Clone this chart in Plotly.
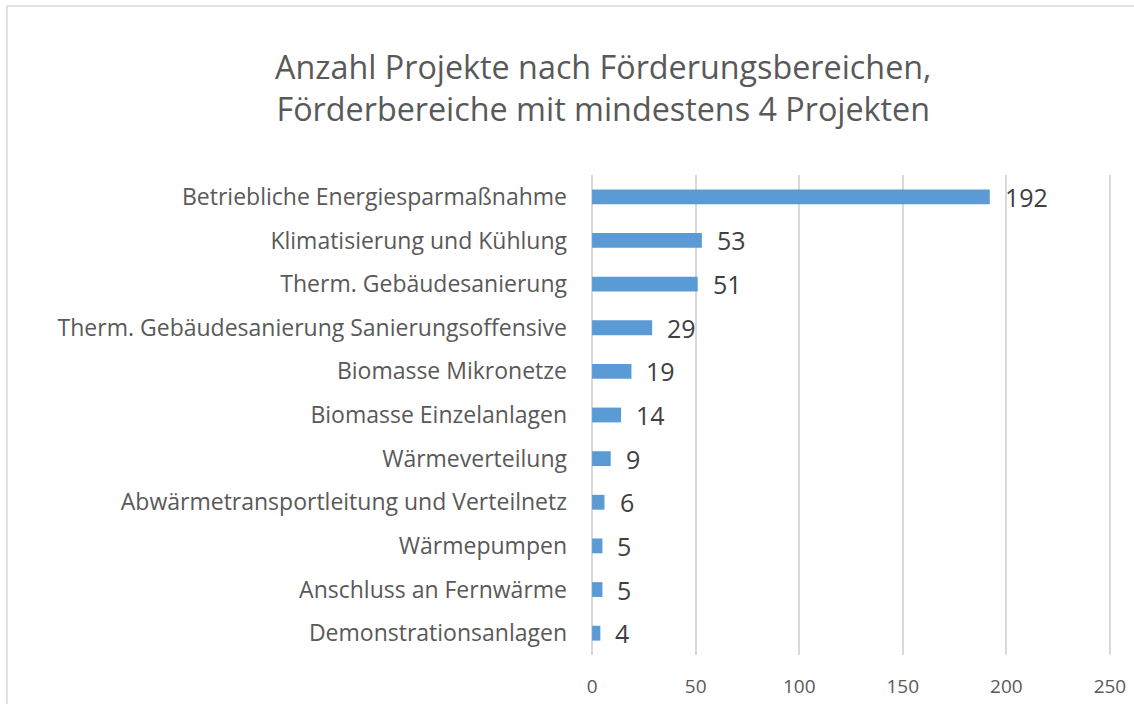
import plotly.graph_objects as go

categories = [
    "Betriebliche Energiesparmaßnahme",
    "Klimatisierung und Kühlung",
    "Therm. Gebäudesanierung",
    "Therm. Gebäudesanierung Sanierungsoffensive",
    "Biomasse Mikronetze",
    "Biomasse Einzelanlagen",
    "Wärmeverteilung",
    "Abwärmetransportleitung und Verteilnetz",
    "Wärmepumpen",
    "Anschluss an Fernwärme",
    "Demonstrationsanlagen",
]
values = [192, 53, 51, 29, 19, 14, 9, 6, 5, 5, 4]
x_ticks = [0, 50, 100, 150, 200, 250]

FONT = "Open Sans"
W, H = 1134, 704
L, R, T, B = 590, 22, 175, 49
pw, ph = W - L - R, H - T - B

fig = go.Figure()
fig.add_trace(go.Bar(
    x=values, y=categories, orientation="h",
    marker=dict(color="#5B9BD5", line=dict(width=0)),
    width=0.34, hoverinfo="x+y",
))

for c, v in zip(categories, values):
    fig.add_annotation(x=v, y=c, text=str(v), showarrow=False,
                       xanchor="left", xshift=13,
                       font=dict(family=FONT, size=25, color="#404040"))

fig.update_layout(
    width=W, height=H,
    margin=dict(l=L, r=R, t=T, b=B, pad=0, autoexpand=False),
    paper_bgcolor="white", plot_bgcolor="white",
    showlegend=False,
    title=dict(
        text="Anzahl Projekte nach Förderungsbereichen,<br>Förderbereiche mit mindestens 4 Projekten",
        x=0.532, xanchor="center", y=0.888, yanchor="middle",
        font=dict(family=FONT, size=32.3, color="#595959"),
    ),
    xaxis=dict(
        range=[-1, 251], tickvals=x_ticks, showgrid=True, gridcolor="#D9D9D9",
        gridwidth=1.5, zeroline=False, showline=False, ticks="",
        tickfont=dict(family=FONT, size=19, color="#595959"),
        ticklabelstandoff=18, automargin=False,
    ),
    yaxis=dict(
        autorange="reversed", showgrid=False, zeroline=False, showline=False,
        ticks="", tickfont=dict(family=FONT, size=23, color="#595959"),
        ticklabelstandoff=22, automargin=False,
    ),
    shapes=[dict(type="rect", xref="paper", yref="paper",
                 x0=(7 - L) / pw, x1=(W + 20 - L) / pw,
                 y0=-(B + 20) / ph, y1=(H - B - 6) / ph,
                 line=dict(color="#D9D9D9", width=1.5), fillcolor="rgba(0,0,0,0)",
                 layer="below")],
)

fig.write_html("out.html", config={"displayModeBar": False},
               post_script="document.body.style.margin='0';")
